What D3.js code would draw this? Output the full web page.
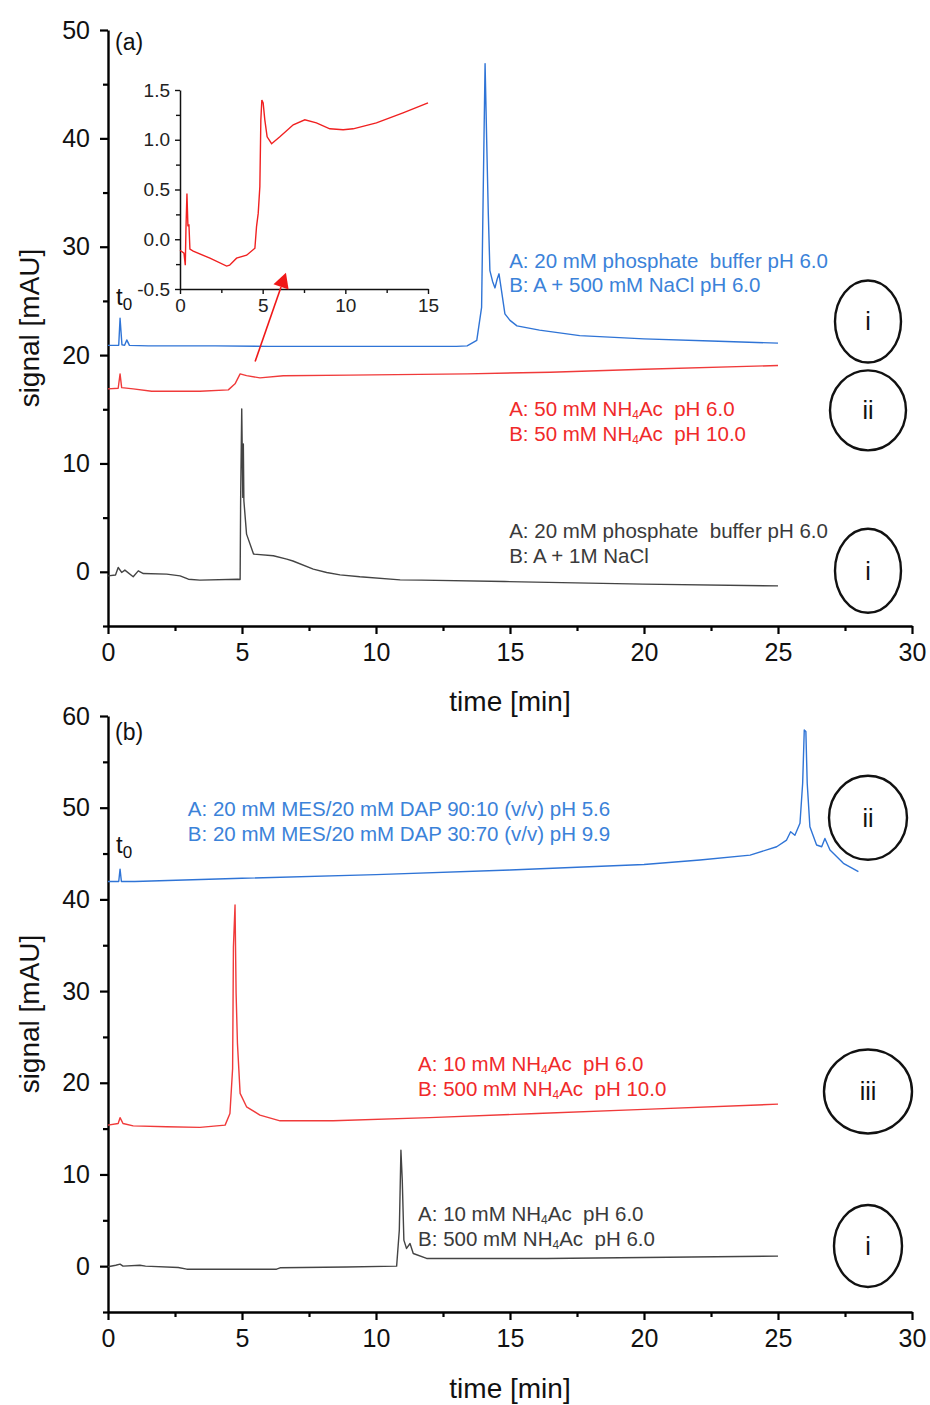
<!DOCTYPE html>
<html>
<head>
<meta charset="utf-8">
<script src="https://cdn.jsdelivr.net/npm/d3@7"></script>
<style>
  html, body { margin: 0; padding: 0; background: #fff; }
  svg text { font-family: "Liberation Sans", Arial, sans-serif; }
</style>
</head>
<body>
<svg id="chart" width="930" height="1405"></svg>
<script>
// ---------------- DATA ----------------
// Panel (a)
const aBlueT = [0, 0.4, 0.45, 0.52, 0.62, 0.7, 0.8, 1.5, 4, 6, 10, 13.0, 13.4, 13.76, 13.94, 14.0, 14.07, 14.13, 14.19, 14.25, 14.35, 14.44, 14.52, 14.59, 14.68, 14.81, 15.0, 15.26, 16.1, 17.6, 20, 22.5, 25];
const aBlueV = [20.9, 20.9, 23.4, 20.95, 20.9, 21.4, 20.9, 20.85, 20.85, 20.8, 20.8, 20.8, 20.85, 21.35, 24.4, 35, 46.9, 39.8, 33.1, 27.8, 26.8, 26.2, 27.0, 27.5, 26.0, 23.8, 23.2, 22.7, 22.3, 21.8, 21.5, 21.3, 21.1];

const aRedT = [0, 0.38, 0.45, 0.51, 0.94, 1.63, 3.43, 4.49, 4.74, 4.93, 5.17, 5.67, 6.54, 9, 13.4, 16.5, 20, 25];
const aRedV = [16.88, 16.94, 18.27, 17.0, 16.88, 16.66, 16.66, 16.79, 17.35, 18.27, 18.1, 17.9, 18.09, 18.15, 18.27, 18.42, 18.7, 19.04];

const aBlackT = [0, 0.28, 0.38, 0.51, 0.63, 0.94, 1.13, 1.32, 2.19, 2.69, 3.0, 3.43, 4.84, 4.93, 4.95, 4.99, 5.03, 5.05, 5.07, 5.17, 5.43, 6.17, 6.67, 6.9, 7.66, 8.16, 8.66, 9.4, 10.9, 11.7, 14.8, 19.96, 25];
const aBlackV = [-0.37, -0.3, 0.4, -0.06, 0.16, -0.46, 0.09, -0.16, -0.21, -0.37, -0.68, -0.77, -0.68, -0.71, 6.87, 15.04, 6.87, 11.8, 6.56, 3.48, 1.64, 1.48, 1.17, 1.0, 0.25, -0.06, -0.28, -0.46, -0.74, -0.77, -0.9, -1.14, -1.3];

// Inset of panel (a) (red trace, zoomed)
const insetT = [0, 0.24, 0.32, 0.36, 0.42, 0.48, 0.54, 0.6, 0.8, 1.81, 2.82, 3.0, 3.42, 4.03, 4.53, 4.63, 4.73, 4.83, 4.89, 4.95, 5.03, 5.13, 5.27, 5.54, 6.04, 6.85, 7.55, 8.25, 9.06, 9.87, 10.47, 11.88, 13.49, 15];
const insetV = [-0.11, -0.14, -0.26, 0.1, 0.46, 0.13, 0.15, -0.1, -0.12, -0.19, -0.27, -0.26, -0.19, -0.16, -0.09, 0.13, 0.26, 0.53, 1.2, 1.4, 1.37, 1.2, 1.03, 0.96, 1.03, 1.15, 1.2, 1.17, 1.11, 1.1, 1.11, 1.17, 1.27, 1.37];

// Panel (b)
const bBlueT = [0, 0.4, 0.45, 0.5, 1, 5, 10, 15, 20, 22.09, 23.96, 24.95, 25.32, 25.47, 25.63, 25.82, 25.92, 25.98, 26.04, 26.09, 26.19, 26.44, 26.63, 26.75, 26.94, 27.44, 28];
const bBlueV = [41.95, 41.95, 43.3, 41.95, 41.95, 42.3, 42.7, 43.2, 43.8, 44.29, 44.83, 45.74, 46.47, 47.38, 47.0, 48.3, 52.66, 58.47, 58.3, 52.66, 47.93, 45.93, 45.74, 46.65, 45.38, 43.93, 43.02];

const bRedT = [0, 0.38, 0.45, 0.56, 0.94, 2.19, 3.43, 4.37, 4.55, 4.65, 4.68, 4.74, 4.78, 4.83, 4.93, 5.17, 5.67, 6.42, 8.4, 12, 16, 20, 25];
const bRedV = [15.38, 15.56, 16.2, 15.56, 15.3, 15.2, 15.13, 15.38, 16.65, 21.56, 34.83, 39.38, 29.75, 24.3, 18.84, 17.38, 16.47, 15.85, 15.85, 16.2, 16.65, 17.1, 17.67];

const bBlackT = [0, 0.29, 0.45, 0.56, 1.19, 1.4, 2.62, 2.94, 6.29, 6.42, 8.9, 10.77, 10.87, 10.93, 10.98, 11.04, 11.14, 11.27, 11.39, 11.89, 16.37, 20, 25];
const bBlackV = [-0.07, 0.1, 0.22, 0.0, 0.1, 0.0, -0.15, -0.33, -0.33, -0.18, -0.1, 0.0, 3.93, 12.65, 9.38, 2.84, 1.93, 2.47, 1.38, 0.84, 0.84, 0.95, 1.09];

// Ticks
const xMajor = [0, 5, 10, 15, 20, 25, 30];
const xMinor = [2.5, 7.5, 12.5, 17.5, 22.5, 27.5];
const yMajorA = [0, 10, 20, 30, 40, 50];
const yMinorA = [-5, 5, 15, 25, 35, 45];
const yMajorB = [0, 10, 20, 30, 40, 50, 60];
const yMinorB = [-5, 5, 15, 25, 35, 45, 55];
const insetXMajor = [0, 5, 10, 15];
const insetXMinor = [2.5, 7.5, 12.5];
const insetYMajor = [-0.5, 0.0, 0.5, 1.0, 1.5];
const insetYMinor = [-0.25, 0.25, 0.75, 1.25];

// Legends
const legendA = [
  {color: "#3b82d9", lines: [["A: 20 mM phosphate  buffer pH 6.0"], ["B: A + 500 mM NaCl pH 6.0"]], t: 14.97, v: [28.0, 25.8]},
  {color: "#f02a2a", lines: [["A: 50 mM NH", "4", "Ac  pH 6.0"], ["B: 50 mM NH", "4", "Ac  pH 10.0"]], t: 14.97, v: [14.4, 12.1]},
  {color: "#3a3a3a", lines: [["A: 20 mM phosphate  buffer pH 6.0"], ["B: A + 1M NaCl"]], t: 14.97, v: [3.15, 0.85]}
];
const legendB = [
  {color: "#3b82d9", lines: [["A: 20 mM MES/20 mM DAP 90:10 (v/v) pH 5.6"], ["B: 20 mM MES/20 mM DAP 30:70 (v/v) pH 9.9"]], t: 2.98, v: [49.1, 46.35]},
  {color: "#f02a2a", lines: [["A: 10 mM NH", "4", "Ac  pH 6.0"], ["B: 500 mM NH", "4", "Ac  pH 10.0"]], t: 11.57, v: [21.25, 18.55]},
  {color: "#3a3a3a", lines: [["A: 10 mM NH", "4", "Ac  pH 6.0"], ["B: 500 mM NH", "4", "Ac  pH 6.0"]], t: 11.57, v: [4.9, 2.2]}
];
const romanA = [{label: "i", v: 23.1, rx: 33, ry: 41}, {label: "ii", v: 14.9, rx: 38, ry: 40}, {label: "i", v: 0.1, rx: 33, ry: 42}];
const romanB = [{label: "ii", v: 48.9, rx: 39, ry: 42}, {label: "iii", v: 19.05, rx: 44, ry: 42}, {label: "i", v: 2.2, rx: 34, ry: 41}];

// ---------------- DRAWING ----------------
const svg = d3.select("#chart");
svg.append("rect").attr("width", 930).attr("height", 1405).attr("fill", "#fff");

const x = d3.scaleLinear().domain([0, 30]).range([108, 912]);
const yA = d3.scaleLinear().domain([-5, 50]).range([626, 30]);
const yB = d3.scaleLinear().domain([-5, 60]).range([1312, 716]);

function zip(t, v) { return t.map((d, i) => [d, v[i]]); }

function drawAxes(y, yMajor, yMinor, title, bottomY, titleY, labelCY) {
  const gx = svg.append("g").attr("transform", `translate(0,${bottomY})`);
  gx.call(d3.axisBottom(x).tickValues(xMajor).tickSize(8).tickSizeOuter(0).tickPadding(9).tickFormat(d3.format("d")));
  const gxm = svg.append("g").attr("transform", `translate(0,${bottomY})`);
  gxm.call(d3.axisBottom(x).tickValues(xMinor).tickSize(5).tickSizeOuter(0).tickFormat(""));
  gxm.select(".domain").remove();

  const gy = svg.append("g").attr("transform", `translate(108,0)`);
  gy.call(d3.axisLeft(y).tickValues(yMajor).tickSize(8).tickSizeOuter(0).tickPadding(10).tickFormat(d3.format("d")));
  const gym = svg.append("g").attr("transform", `translate(108,0)`);
  gym.call(d3.axisLeft(y).tickValues(yMinor).tickSize(5).tickSizeOuter(0).tickFormat(""));
  gym.select(".domain").remove();

  [gx, gxm, gy, gym].forEach(g => {
    g.selectAll("path.domain").attr("stroke", "#000").attr("stroke-width", 2.4);
    g.selectAll(".tick line").attr("stroke", "#000").attr("stroke-width", 2.2);
    g.selectAll(".tick text").attr("fill", "#111").style("font-size", "25px")
      .style("font-family", "'Liberation Sans', Arial, sans-serif");
  });

  svg.append("text").attr("x", 510).attr("y", titleY).attr("text-anchor", "middle")
    .style("font-size", "28px").attr("fill", "#111").text(title);
  svg.append("text").attr("transform", `translate(39,${labelCY}) rotate(-90)`).attr("text-anchor", "middle")
    .style("font-size", "28px").attr("fill", "#111").text("signal [mAU]");
}

function drawLine(t, v, y, color) {
  const line = d3.line().x(d => x(d[0])).y(d => y(d[1]));
  svg.append("path").datum(zip(t, v)).attr("d", line)
    .attr("fill", "none").attr("stroke", color).attr("stroke-width", 1.4).attr("stroke-linejoin", "round");
}

function drawLegend(items, y) {
  items.forEach(it => {
    it.lines.forEach((parts, i) => {
      const tx = svg.append("text").attr("x", x(it.t)).attr("y", y(it.v[i]))
        .attr("fill", it.color).style("font-size", "20.5px").attr("xml:space", "preserve")
        .style("white-space", "pre");
      parts.forEach((p, j) => {
        if (j === 1) {
          tx.append("tspan").text(p).style("font-size", "12px").attr("dy", 3);
        } else if (j === 2) {
          tx.append("tspan").text(p).attr("dy", -3);
        } else {
          tx.append("tspan").text(p);
        }
      });
    });
  });
}

function drawRoman(items, y) {
  items.forEach(r => {
    svg.append("ellipse").attr("cx", 868).attr("cy", y(r.v)).attr("rx", r.rx).attr("ry", r.ry)
      .attr("fill", "none").attr("stroke", "#111").attr("stroke-width", 2.4);
    svg.append("text").attr("x", 868).attr("y", y(r.v)).attr("dy", "0.36em").attr("text-anchor", "middle")
      .style("font-size", "25px").attr("fill", "#111").text(r.label);
  });
}

function drawT0(y, v) {
  const t = svg.append("text").attr("x", 116).attr("y", y(v)).style("font-size", "24px").attr("fill", "#111");
  t.append("tspan").text("t");
  t.append("tspan").text("0").style("font-size", "17px").attr("dy", 5);
}

// Panel (a)
drawAxes(yA, yMajorA, yMinorA, "time [min]", 626, 711, 328);
drawLine(aBlackT, aBlackV, yA, "#444");
drawLine(aRedT, aRedV, yA, "#f03a3a");
drawLine(aBlueT, aBlueV, yA, "#2f74d6");
drawLegend(legendA, yA);
drawRoman(romanA, yA);
drawT0(yA, 24.6);
svg.append("text").attr("x", 115).attr("y", 50).style("font-size", "23px").attr("fill", "#111").text("(a)");

// Inset
const xi = d3.scaleLinear().domain([0, 15]).range([180, 428]);
const yi = d3.scaleLinear().domain([-0.5, 1.5]).range([289, 90]);
const fmt1 = d => d.toFixed(1);
const gix = svg.append("g").attr("transform", "translate(0,289)")
  .call(d3.axisBottom(xi).tickValues(insetXMajor).tickSize(5).tickSizeOuter(0).tickPadding(5).tickFormat(d3.format("d")));
const gixm = svg.append("g").attr("transform", "translate(0,289)")
  .call(d3.axisBottom(xi).tickValues(insetXMinor).tickSize(4).tickSizeOuter(0).tickFormat(""));
gixm.select(".domain").remove();
const giy = svg.append("g").attr("transform", "translate(180,0)")
  .call(d3.axisLeft(yi).tickValues(insetYMajor).tickSize(5).tickSizeOuter(0).tickPadding(5).tickFormat(fmt1));
const giym = svg.append("g").attr("transform", "translate(180,0)")
  .call(d3.axisLeft(yi).tickValues(insetYMinor).tickSize(4).tickSizeOuter(0).tickFormat(""));
giym.select(".domain").remove();
[gix, gixm, giy, giym].forEach(g => {
  g.selectAll("path.domain").attr("stroke", "#111").attr("stroke-width", 1.5);
  g.selectAll(".tick line").attr("stroke", "#111").attr("stroke-width", 1.4);
  g.selectAll(".tick text").attr("fill", "#222").style("font-size", "19px")
    .style("font-family", "'Liberation Sans', Arial, sans-serif");
});
svg.append("path").datum(zip(insetT, insetV))
  .attr("d", d3.line().x(d => xi(d[0])).y(d => yi(d[1])))
  .attr("fill", "none").attr("stroke", "#f02020").attr("stroke-width", 1.4);

// Red arrow from trace bump to inset
const arrowStart = [5.49, 19.4], arrowTip = [6.64, 27.6];
const ax0 = x(arrowStart[0]), ay0 = yA(arrowStart[1]), ax1 = x(arrowTip[0]), ay1 = yA(arrowTip[1]);
const ang = Math.atan2(ay1 - ay0, ax1 - ax0);
const hl = 15, hw = 8;
const bx = ax1 - hl * Math.cos(ang), by = ay1 - hl * Math.sin(ang);
svg.append("line").attr("x1", ax0).attr("y1", ay0).attr("x2", bx).attr("y2", by)
  .attr("stroke", "#f01818").attr("stroke-width", 1.6);
svg.append("path")
  .attr("d", `M${ax1},${ay1} L${bx + hw * Math.sin(ang)},${by - hw * Math.cos(ang)} L${bx - hw * Math.sin(ang)},${by + hw * Math.cos(ang)} Z`)
  .attr("fill", "#f01818");

// Panel (b)
drawAxes(yB, yMajorB, yMinorB, "time [min]", 1312, 1398, 1014);
drawLine(bBlackT, bBlackV, yB, "#444");
drawLine(bRedT, bRedV, yB, "#f03a3a");
drawLine(bBlueT, bBlueV, yB, "#2f74d6");
drawLegend(legendB, yB);
drawRoman(romanB, yB);
drawT0(yB, 45.1);
svg.append("text").attr("x", 115).attr("y", 740).style("font-size", "23px").attr("fill", "#111").text("(b)");
</script>
</body>
</html>
